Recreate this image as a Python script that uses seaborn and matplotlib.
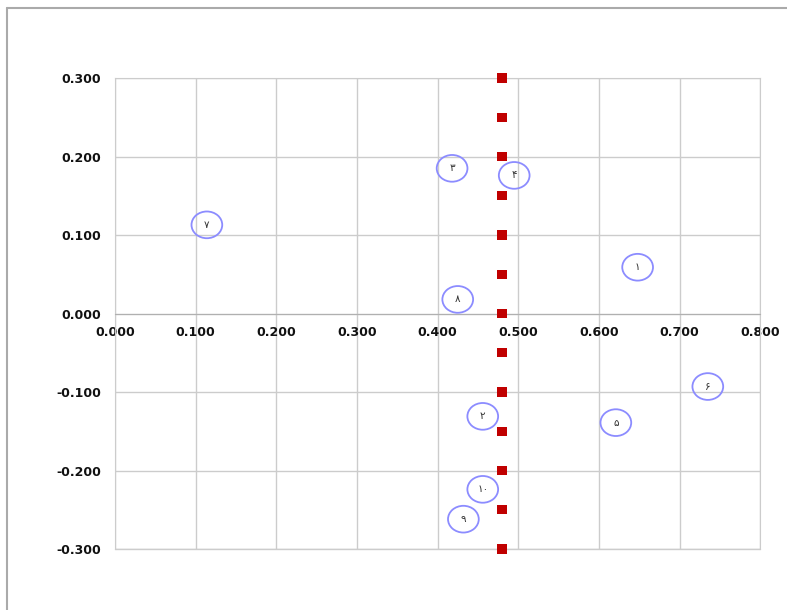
import numpy as np
import pandas as pd
import matplotlib
matplotlib.use("Agg")
import matplotlib.pyplot as plt
import seaborn as sns
from matplotlib.path import Path
from matplotlib.transforms import Affine2D

# --- data ---
point_labels = ["۱", "۲", "۳", "۴", "۵", "۶", "۷", "۸", "۹", "۱۰"]
point_x = [0.648, 0.456, 0.418, 0.495, 0.621, 0.735, 0.114, 0.425, 0.432, 0.456]
point_y = [0.059, -0.131, 0.185, 0.176, -0.139, -0.093, 0.113, 0.018, -0.262, -0.224]

ref_x = [0.48] * 13
ref_y = [0.30, 0.25, 0.20, 0.15, 0.10, 0.05, 0.00, -0.05, -0.10, -0.15, -0.20, -0.25, -0.30]

x_ticks = [0.0, 0.1, 0.2, 0.3, 0.4, 0.5, 0.6, 0.7, 0.8]
y_ticks = [-0.3, -0.2, -0.1, 0.0, 0.1, 0.2, 0.3]

df_pts = pd.DataFrame({"x": point_x, "y": point_y, "label": point_labels})
df_ref = pd.DataFrame({"x": ref_x, "y": ref_y})

sns.set_style("white")
plt.rcParams["font.family"] = ["DejaVu Sans"]

fig = plt.figure(figsize=(7.87, 6.10), dpi=100)
ax = fig.add_axes([0.146, 0.100, 0.820, 0.772])

# ellipse-shaped marker (slightly wider than tall)
ellipse = Path.unit_circle().transformed(Affine2D().scale(1.15, 1.0))

sns.scatterplot(data=df_ref, x="x", y="y", ax=ax, marker="s", s=45,
                color="#c00000", edgecolor="none", zorder=5, clip_on=False)
sns.scatterplot(data=df_pts, x="x", y="y", ax=ax, marker=ellipse, s=490,
                facecolor="none", edgecolor="#8c8cff", linewidth=1.3, zorder=6,
                clip_on=False)

for _, r in df_pts.iterrows():
    ax.text(r["x"], r["y"], r["label"], ha="center", va="center",
            fontsize=7.5, color="#333333", zorder=7)

# axes frame: x axis runs through zero, other edges light gray
for side in ["top", "right", "left"]:
    ax.spines[side].set_color("#cccccc")
ax.spines["bottom"].set_position(("data", 0))
ax.spines["bottom"].set_color("#b0b0b0")
ax.axhline(-0.3, color="#cccccc", linewidth=1.0, clip_on=False, zorder=1)

ax.set_xlim(0, 0.8)
ax.set_ylim(-0.3, 0.3)
ax.set_xticks(x_ticks)
ax.set_yticks(y_ticks)
ax.set_xticklabels([f"{v:.3f}" for v in x_ticks], fontweight="bold", fontsize=9)
ax.set_yticklabels([f"{v:.3f}" for v in y_ticks], fontweight="bold", fontsize=9)
ax.tick_params(axis="both", length=0, colors="#111111")
ax.tick_params(axis="y", pad=10)
ax.tick_params(axis="x", pad=9)

ax.grid(True, color="#cccccc", linewidth=1.0)
ax.set_axisbelow(True)
ax.set_xlabel("")
ax.set_ylabel("")

# outer chart frame (only top and left edges are visible in the crop)
fig.add_artist(plt.Line2D([0.009, 0.009], [0.0, 0.987], color="#aaaaaa", lw=1.5))
fig.add_artist(plt.Line2D([0.009, 1.0], [0.987, 0.987], color="#aaaaaa", lw=1.5))

fig.savefig("out.png", dpi=100, facecolor="white")
